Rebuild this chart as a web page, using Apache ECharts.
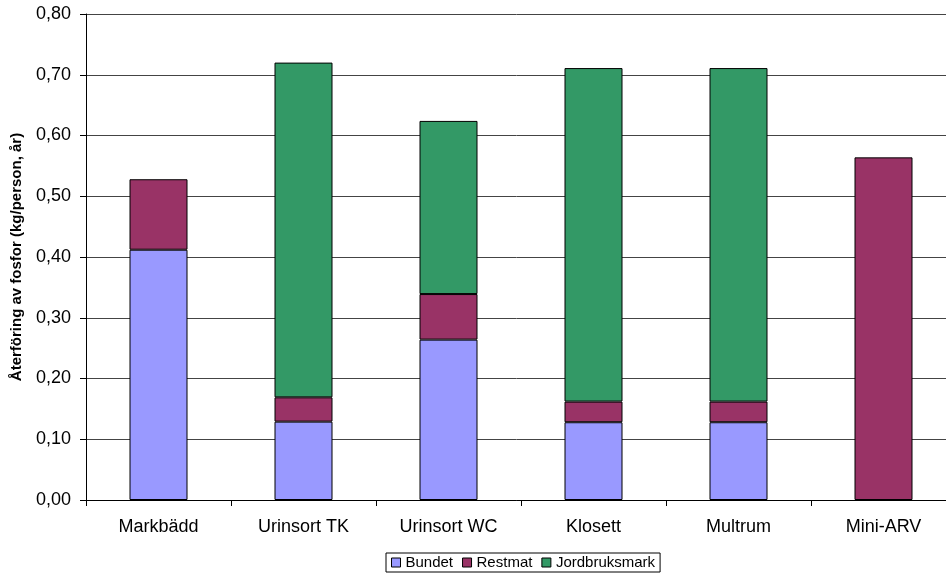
<!DOCTYPE html>
<html>
<head>
<meta charset="utf-8">
<script src="https://cdn.jsdelivr.net/npm/echarts@6/dist/echarts.min.js"></script>
<style>
html,body{margin:0;padding:0;background:#fff;}
#chart{width:946px;height:576px;}
</style>
</head>
<body>
<div id="chart"></div>
<script>
// Phosphorus return per system (kg/person, year), stacked by destination
const categories = ['Markbädd', 'Urinsort TK', 'Urinsort WC', 'Klosett', 'Multrum', 'Mini-ARV'];
const bundet = [0.412, 0.129, 0.264, 0.128, 0.128, null];
const restmat = [0.116, 0.040, 0.075, 0.034, 0.034, 0.564];
const jordbruksmark = [null, 0.551, 0.285, 0.549, 0.549, null];
const yTicks = ['0,00', '0,10', '0,20', '0,30', '0,40', '0,50', '0,60', '0,70', '0,80'];

const font = 'Liberation Sans, Arial, sans-serif';
const chart = echarts.init(document.getElementById('chart'), null, {renderer: 'canvas'});

function barSeries(name, data, color) {
  return {
    name: name,
    type: 'bar',
    stack: 'total',
    data: data,
    barWidth: '40%',
    itemStyle: {color: color, borderColor: '#000', borderWidth: 1},
    emphasis: {disabled: true}
  };
}

chart.setOption({
  animation: false,
  backgroundColor: '#fff',
  textStyle: {fontFamily: font},
  grid: {left: 86, right: -10, top: 14, bottom: 76, containLabel: false, outerBoundsMode: 'none'},
  legend: {
    left: 386,
    top: 553,
    itemWidth: 9,
    itemHeight: 9,
    itemGap: 9,
    padding: [2, 5, 2, 5],
    borderColor: '#000',
    borderWidth: 1,
    textStyle: {fontFamily: font, fontSize: 15, color: '#000'},
    icon: 'rect',
    itemStyle: {borderColor: '#000', borderWidth: 1},
    data: ['Bundet', 'Restmat', 'Jordbruksmark']
  },
  xAxis: {
    type: 'category',
    data: categories,
    boundaryGap: true,
    axisLine: {lineStyle: {color: '#000', width: 1}},
    axisTick: {show: true, alignWithLabel: false, length: 6, lineStyle: {color: '#000'}},
    axisLabel: {fontFamily: font, fontSize: 18, color: '#000', margin: 18}
  },
  yAxis: {
    type: 'value',
    min: 0,
    max: 0.8,
    interval: 0.1,
    name: 'Återföring av fosfor (kg/person, år)',
    nameLocation: 'middle',
    nameGap: 62,
    nameTextStyle: {fontFamily: font, fontSize: 15, fontWeight: 'bold', color: '#000'},
    axisLine: {show: true, lineStyle: {color: '#000', width: 1}},
    axisTick: {show: true, length: 6, lineStyle: {color: '#000'}},
    axisLabel: {
      fontFamily: font, fontSize: 18, color: '#000', margin: 15,
      formatter: function (v) { return yTicks[Math.round(v * 10)]; }
    },
    splitLine: {show: true, lineStyle: {color: '#444', width: 1}}
  },
  series: [
    barSeries('Bundet', bundet, '#9999FF'),
    barSeries('Restmat', restmat, '#993366'),
    barSeries('Jordbruksmark', jordbruksmark, '#339966')
  ]
});
</script>
</body>
</html>
